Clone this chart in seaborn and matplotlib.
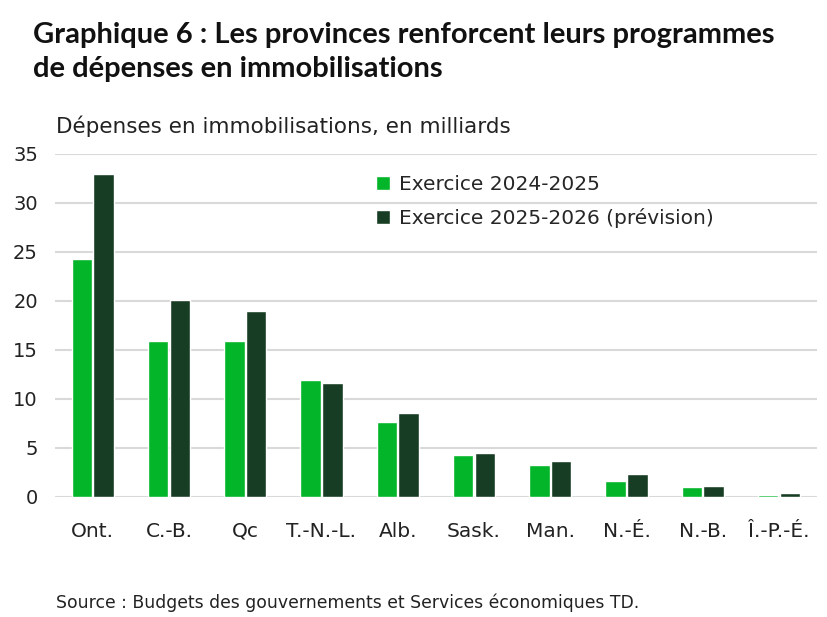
import matplotlib
matplotlib.use("Agg")
import matplotlib.pyplot as plt
import seaborn as sns
import pandas as pd

# values (billions)
provinces = ["Ont.", "C.-B.", "Qc", "T.-N.-L.", "Alb.", "Sask.", "Man.", "N.-É.", "N.-B.", "Î.-P.-É."]
fy_2024 = [24.3, 15.9, 15.9, 11.9, 7.6, 4.3, 3.2, 1.6, 1.0, 0.2]
fy_2025 = [32.9, 20.1, 18.9, 11.6, 8.5, 4.5, 3.6, 2.3, 1.1, 0.4]
series = ["Exercice 2024-2025", "Exercice 2025-2026 (prévision)"]
colors = ["#03B529", "#183D25"]

df = pd.DataFrame({
    "province": provinces * 2,
    "valeur": fy_2024 + fy_2025,
    "serie": [series[0]] * len(provinces) + [series[1]] * len(provinces),
})

sns.set_style("white")
plt.rcParams["font.family"] = ["DejaVu Sans"]

fig = plt.figure(figsize=(8.27, 6.17), dpi=100)
ax = fig.add_axes([0.066, 0.195, 0.922, 0.556])

sns.barplot(data=df, x="province", y="valeur", hue="serie", palette=colors,
            width=0.57, gap=0.06, saturation=1, ax=ax)

ax.set_ylim(0, 35)
ax.set_yticks(range(0, 36, 5))
ax.set_xlim(-0.5, len(provinces) - 0.5)
ax.grid(axis="y", color="#d9d9d9", linewidth=1.5)
ax.set_axisbelow(True)
for s in ax.spines.values():
    s.set_visible(False)
ax.set_xlabel("")
ax.set_ylabel("")
ax.tick_params(axis="y", labelsize=14, pad=12, length=0, colors="#222222")
ax.tick_params(axis="x", labelsize=14.5, pad=18, length=0, colors="#222222")

ax.legend(loc="upper left", bbox_to_anchor=(0.398, 0.99), frameon=False,
          fontsize=14.5, handlelength=0.7, handleheight=0.7, handletextpad=0.45,
          labelspacing=0.7)

fig.text(0.04, 0.916, "Graphique 6 : Les provinces renforcent leurs programmes\nde dépenses en immobilisations",
         fontsize=21, fontweight="bold", family="Lato", va="center", linespacing=1.4, color="#111111")
fig.text(0.068, 0.795, "Dépenses en immobilisations, en milliards", fontsize=15.5, color="#222222", va="center")
fig.text(0.068, 0.008, "Source : Budgets des gouvernements et Services économiques TD.", fontsize=12.4,
         color="#222222", va="bottom")

fig.savefig("out.png", dpi=100)
